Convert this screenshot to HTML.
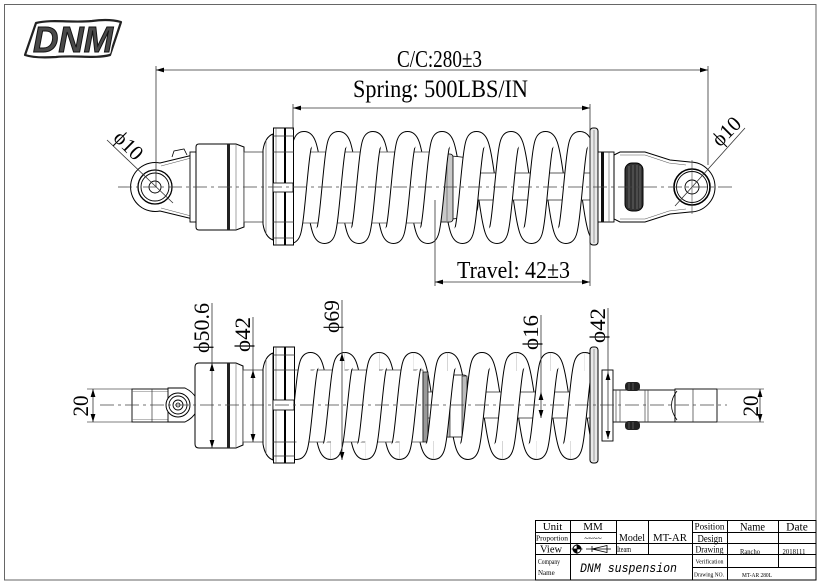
<!DOCTYPE html>
<html>
<head>
<meta charset="utf-8">
<style>
html,body{margin:0;padding:0;background:#fff;}
svg{display:block;}
text{font-family:"Liberation Serif","DejaVu Serif",serif;fill:#000;}
</style>
</head>
<body>
<svg width="824" height="586" viewBox="0 0 824 586" xmlns="http://www.w3.org/2000/svg">
<defs>
  <marker id="a" viewBox="0 0 10 6" refX="10" refY="3" markerWidth="8" markerHeight="5" markerUnits="userSpaceOnUse" orient="auto-start-reverse">
    <path d="M0,0 L10,3 L0,6 z" fill="#000"/>
  </marker>
  <clipPath id="ct"><rect x="294" y="118" width="296" height="135"/></clipPath>
  <clipPath id="cb"><rect x="295" y="338" width="295" height="135"/></clipPath>
  <path id="tf" d="M304 141C298.9 141 295.1 234 290 234M338.5 141C333.4 141 329.6 234 324.5 234M373 141C367.9 141 364.1 234 359 234M407.5 141C402.4 141 398.6 234 393.5 234M442 141C436.9 141 433.1 234 428 234M476.5 141C471.4 141 467.6 234 462.5 234M511 141C505.9 141 502.1 234 497 234M545.5 141C540.4 141 536.6 234 531.5 234M580 141C574.9 141 571.1 234 566 234"/>
  <path id="tb" d="M269.5 141C277 141 282.5 234 290 234M304 141C311.5 141 317 234 324.5 234M338.5 141C346 141 351.5 234 359 234M373 141C380.5 141 386 234 393.5 234M407.5 141C415 141 420.5 234 428 234M442 141C449.5 141 455 234 462.5 234M476.5 141C484 141 489.5 234 497 234M511 141C518.5 141 524 234 531.5 234M545.5 141C553 141 558.5 234 566 234M580 141C587.5 141 593 234 600.5 234"/>
  <path id="bf" d="M310.5 362C305.4 362 301.6 450 296.5 450M344.8 362C339.7 362 335.9 450 330.8 450M379.1 362C374 362 370.2 450 365.1 450M413.4 362C408.3 362 404.5 450 399.4 450M447.7 362C442.6 362 438.8 450 433.7 450M482 362C476.9 362 473.1 450 468 450M516.3 362C511.2 362 507.4 450 502.3 450M550.6 362C545.5 362 541.7 450 536.6 450M584.9 362C579.8 362 576 450 570.9 450"/>
  <path id="bb" d="M276.2 362C283.6 362 289.1 450 296.5 450M310.5 362C317.9 362 323.4 450 330.8 450M344.8 362C352.2 362 357.7 450 365.1 450M379.1 362C386.5 362 392 450 399.4 450M413.4 362C420.8 362 426.3 450 433.7 450M447.7 362C455.1 362 460.6 450 468 450M482 362C489.4 362 494.9 450 502.3 450M516.3 362C523.7 362 529.2 450 536.6 450M550.6 362C558 362 563.5 450 570.9 450M584.9 362C592.3 362 597.8 450 605.2 450"/>
</defs>

<rect x="0" y="0" width="824" height="586" fill="#fff"/>
<!-- frame -->
<rect x="4.5" y="4.5" width="811.5" height="575.5" fill="none" stroke="#666" stroke-width="1"/>

<!-- logo -->
<path d="M36,23 C52,19 72,23 92,21 C106,19 114,20 121,22 L110,55 C95,59 76,55 56,57 C41,58 31,57 25,55 Z" fill="#fff" stroke="#222" stroke-width="2.2" stroke-linejoin="round"/>
<text x="33" y="52" font-family="Liberation Sans" font-weight="bold" font-style="italic" font-size="36" textLength="80" lengthAdjust="spacingAndGlyphs" style="font-family:'Liberation Sans',sans-serif;fill:#fff;stroke:#fff;stroke-width:3.5;stroke-linejoin:round">DNM</text>
<text x="33" y="52" font-weight="bold" font-style="italic" font-size="36" textLength="80" lengthAdjust="spacingAndGlyphs" style="font-family:'Liberation Sans',sans-serif;fill:#4a4a4a;stroke:#111;stroke-width:1">DNM</text>

<!-- ================= TOP SHOCK ================= -->
<!-- left lug -->
<path d="M193,155 L160,163 A24.5,24.5 0 1 0 160,211 L193,219" fill="#fff" stroke="#000" stroke-width="1"/>
<path d="M191,158 L161,166" fill="none" stroke="#555" stroke-width="0.6"/>
<path d="M191,216 L161,208" fill="none" stroke="#555" stroke-width="0.6"/>
<circle cx="155" cy="187" r="17" fill="#fff" stroke="#000" stroke-width="1.3"/>
<circle cx="155" cy="187" r="14" fill="none" stroke="#000" stroke-width="0.9"/>
<circle cx="155" cy="187" r="6" fill="none" stroke="#000" stroke-width="0.9"/>
<path d="M172,157 L174,151 L184,149 L187,155" fill="#fff" stroke="#000" stroke-width="0.8"/>
<rect x="190" y="152" width="7" height="70" fill="#fff" stroke="#000" stroke-width="0.9"/>
<!-- body -->
<path d="M199,144 L236,144 L244,147 L244,227 L236,230 L199,230 Q196,230 196,227 L196,147 Q196,144 199,144 Z" fill="#fff" stroke="#000" stroke-width="1"/>
<rect x="227" y="144" width="3" height="86" fill="#222"/>
<line x1="236" y1="144" x2="236" y2="230" stroke="#666" stroke-width="0.6"/>
<rect x="244" y="152" width="19" height="70" fill="#fff" stroke="#444" stroke-width="0.8"/>
<!-- left seat -->
<path d="M273,134 Q265,137 263,150 L263,224 Q265,237 273,240 Z" fill="#fff" stroke="#000" stroke-width="1"/>
<line x1="266" y1="140" x2="266" y2="234" stroke="#555" stroke-width="0.6"/>
<rect x="273.5" y="128" width="11" height="117" fill="#fff" stroke="#000" stroke-width="1"/>
<rect x="285.5" y="128" width="8" height="117" fill="#fff" stroke="#000" stroke-width="1"/>
<line x1="285" y1="128" x2="285" y2="245" stroke="#000" stroke-width="2"/>
<line x1="276" y1="128" x2="276" y2="245" stroke="#555" stroke-width="0.6"/>
<path d="M273,136 H294 M273,152 H294 M273,222 H294 M273,238 H294" stroke="#333" stroke-width="0.7"/>
<rect x="273" y="183" width="20" height="9" fill="#fff" stroke="#000" stroke-width="0.8"/>

<!-- spring top -->
<g clip-path="url(#ct)">
  <use href="#tb" fill="none" stroke="#000" stroke-width="20"/>
  <use href="#tb" fill="none" stroke="#fff" stroke-width="18"/>
  <rect x="292" y="152" width="141" height="71" fill="#fff" stroke="#555" stroke-width="0.8"/>
  <rect x="478" y="173" width="114" height="27" fill="#fff" stroke="#333" stroke-width="0.8"/>
  <path d="M452,156 L470,158 Q478,161 478,170 L478,205 Q478,214 470,217 L452,219 Z" fill="#fff" stroke="#000" stroke-width="0.8"/>
  <rect x="433" y="154" width="20" height="68" rx="3" fill="#c9c9c9" stroke="#000" stroke-width="0.8"/>
  <path d="M437,156 V220 M441,155 V221 M447,155 V221" stroke="#555" stroke-width="0.6"/>
  <use href="#tf" fill="none" stroke="#000" stroke-width="20"/>
  <use href="#tf" fill="none" stroke="#fff" stroke-width="18"/>
</g>

<!-- right seat & clevis top -->
<rect x="590" y="128" width="8" height="117" rx="3" fill="#e8e8e8" stroke="#000" stroke-width="1"/>
<line x1="594" y1="130" x2="594" y2="243" stroke="#666" stroke-width="0.6"/>
<rect x="598" y="152" width="16" height="70" fill="#fff" stroke="#000" stroke-width="0.9"/>
<rect x="601" y="152" width="3" height="70" fill="#111"/>
<line x1="609" y1="152" x2="609" y2="222" stroke="#555" stroke-width="0.6"/>
<path d="M614,155 L620,152 L645,152 L670,160 L690,162 A25,25 0 1 1 690,212 L670,214 L645,222 L620,222 L614,219 Z" fill="#fff" stroke="#000" stroke-width="1"/>
<path d="M620,155 L645,155 L669,163 L686,165 M620,219 L645,219 L669,211 L686,209" fill="none" stroke="#555" stroke-width="0.6"/>
<rect x="625" y="163" width="18" height="48" rx="7" fill="#333" stroke="#000" stroke-width="1"/>
<path d="M629,166 V208 M633,165 V209 M637,165 V209 M640,166 V208" stroke="#888" stroke-width="0.6"/>
<circle cx="692" cy="187" r="18" fill="#fff" stroke="#000" stroke-width="1.6"/>
<circle cx="692" cy="187" r="15.5" fill="none" stroke="#000" stroke-width="0.9"/>
<circle cx="692" cy="187" r="7" fill="none" stroke="#000" stroke-width="0.9"/>
<line x1="692" y1="160" x2="692" y2="214" stroke="#444" stroke-width="0.6"/>

<!-- centerline top -->
<line x1="118" y1="187" x2="735" y2="187" stroke="#444" stroke-width="0.8" stroke-dasharray="14 4 3 4"/>

<!-- top dimensions -->
<line x1="156" y1="66" x2="156" y2="187" stroke="#333" stroke-width="0.8"/>
<line x1="708" y1="66" x2="708" y2="165" stroke="#333" stroke-width="0.8"/>
<line x1="156" y1="70" x2="708" y2="70" stroke="#333" stroke-width="0.8" marker-start="url(#a)" marker-end="url(#a)"/>
<text x="397" y="67" font-size="24" textLength="85" lengthAdjust="spacingAndGlyphs">C/C:280±3</text>

<line x1="293" y1="104" x2="293" y2="130" stroke="#333" stroke-width="0.8"/>
<line x1="590" y1="104" x2="590" y2="286" stroke="#333" stroke-width="0.8"/>
<line x1="293" y1="108" x2="590" y2="108" stroke="#333" stroke-width="0.8" marker-start="url(#a)" marker-end="url(#a)"/>
<text x="353" y="97" font-size="25" textLength="175" lengthAdjust="spacingAndGlyphs">Spring: 500LBS/IN</text>

<line x1="435" y1="200" x2="435" y2="286" stroke="#333" stroke-width="0.8"/>
<line x1="435" y1="282" x2="590" y2="282" stroke="#333" stroke-width="0.8" marker-start="url(#a)" marker-end="url(#a)"/>
<text x="457" y="278" font-size="24" textLength="113" lengthAdjust="spacingAndGlyphs">Travel: 42±3</text>

<line x1="107" y1="140" x2="173" y2="203" stroke="#333" stroke-width="0.8"/>
<text transform="translate(128,146) rotate(45)" x="0" y="6" text-anchor="middle" font-size="21">ϕ10</text>
<line x1="745" y1="128" x2="675" y2="206" stroke="#333" stroke-width="0.8"/>
<text transform="translate(727,132) rotate(-45)" x="0" y="6" text-anchor="middle" font-size="21">ϕ10</text>

<!-- ================= BOTTOM SHOCK ================= -->
<!-- left end -->
<line x1="87" y1="389" x2="132" y2="389" stroke="#555" stroke-width="0.7"/>
<line x1="87" y1="422" x2="132" y2="422" stroke="#555" stroke-width="0.7"/>
<line x1="93" y1="389" x2="93" y2="422" stroke="#333" stroke-width="0.8" marker-start="url(#a)" marker-end="url(#a)"/>
<text transform="translate(88,406) rotate(-90)" text-anchor="middle" font-size="22" textLength="21" lengthAdjust="spacingAndGlyphs">20</text>

<rect x="132" y="389" width="40" height="33" fill="#fff" stroke="#000" stroke-width="0.9"/>
<path d="M132,391.5 H172 M132,419.5 H172" stroke="#777" stroke-width="0.6"/>
<line x1="152" y1="389" x2="152" y2="422" stroke="#333" stroke-width="0.7"/>
<path d="M168,388 L185,388 Q193,392 196,398 L196,412 Q193,418 185,422 L168,422 Z" fill="#fff" stroke="#000" stroke-width="0.9"/>
<circle cx="178" cy="405" r="12" fill="#fff" stroke="#000" stroke-width="1"/>
<circle cx="178" cy="405" r="9" fill="none" stroke="#000" stroke-width="0.9"/>
<circle cx="178" cy="405" r="5" fill="none" stroke="#000" stroke-width="0.9"/>
<circle cx="178" cy="405" r="2" fill="none" stroke="#000" stroke-width="0.8"/>

<path d="M199,363 L236,363 L243,366 L243,445 L236,448 L199,448 Q195,448 195,444 L195,367 Q195,363 199,363 Z" fill="#fff" stroke="#000" stroke-width="1"/>
<rect x="227" y="363" width="3" height="85" fill="#222"/>
<line x1="236" y1="363" x2="236" y2="448" stroke="#666" stroke-width="0.6"/>
<rect x="243" y="370" width="20" height="72" fill="#fff" stroke="#444" stroke-width="0.8"/>
<path d="M273,353 Q265,356 263,369 L263,444 Q265,457 273,460 Z" fill="#fff" stroke="#000" stroke-width="1"/>
<line x1="266" y1="359" x2="266" y2="454" stroke="#555" stroke-width="0.6"/>
<rect x="273.5" y="347" width="11" height="116" fill="#fff" stroke="#000" stroke-width="1"/>
<rect x="285.5" y="347" width="9" height="116" fill="#fff" stroke="#000" stroke-width="1"/>
<line x1="285" y1="347" x2="285" y2="463" stroke="#000" stroke-width="2"/>
<line x1="276" y1="347" x2="276" y2="463" stroke="#555" stroke-width="0.6"/>
<path d="M273,355 H295 M273,370 H295 M273,442 H295 M273,456 H295" stroke="#333" stroke-width="0.7"/>
<rect x="273" y="400" width="21" height="10" fill="#fff" stroke="#000" stroke-width="0.8"/>

<!-- spring bottom -->
<g clip-path="url(#cb)">
  <use href="#bb" fill="none" stroke="#000" stroke-width="20"/>
  <use href="#bb" fill="none" stroke="#fff" stroke-width="18"/>
  <rect x="293" y="370" width="130" height="72" fill="#fff" stroke="#555" stroke-width="0.8"/>
  <rect x="423" y="372" width="5" height="70" fill="#999" stroke="#000" stroke-width="0.7"/>
  <rect x="428" y="392" width="164" height="26" fill="#fff" stroke="#333" stroke-width="0.8"/>
  <rect x="445" y="375" width="22" height="62" rx="3" fill="#fff" stroke="#000" stroke-width="0.8"/>
  <rect x="445" y="375" width="5" height="62" fill="#bbb" stroke="#000" stroke-width="0.6"/>
  <rect x="462" y="376" width="5" height="60" fill="#bbb" stroke="#000" stroke-width="0.6"/>
  <use href="#bf" fill="none" stroke="#000" stroke-width="20"/>
  <use href="#bf" fill="none" stroke="#fff" stroke-width="18"/>
</g>

<!-- right end bottom -->
<rect x="590" y="347" width="8" height="116" rx="3" fill="#e8e8e8" stroke="#000" stroke-width="1"/>
<line x1="594" y1="349" x2="594" y2="461" stroke="#666" stroke-width="0.6"/>
<rect x="602" y="370" width="11" height="71" fill="#fff" stroke="#000" stroke-width="0.9"/>
<rect x="613" y="390" width="62" height="32" fill="#fff" stroke="#000" stroke-width="0.9"/>
<path d="M616,390 V422 M620,390 V422 M645,390 V422 M648,390 V422" stroke="#444" stroke-width="0.7"/>
<rect x="625" y="382" width="15" height="9" rx="3.5" fill="#222"/>
<rect x="625" y="421" width="15" height="9" rx="3.5" fill="#222"/>
<path d="M629,383 V390 M633,383 V390 M629,422 V429 M633,422 V429" stroke="#777" stroke-width="0.6"/>
<rect x="675" y="389" width="42" height="33" fill="#fff" stroke="#000" stroke-width="0.9"/>
<path d="M677,391 Q666,405 677,420" fill="none" stroke="#000" stroke-width="0.8"/>
<line x1="693" y1="389" x2="693" y2="422" stroke="#333" stroke-width="0.7"/>
<line x1="717" y1="389" x2="764" y2="389" stroke="#555" stroke-width="0.7"/>
<line x1="717" y1="422" x2="764" y2="422" stroke="#555" stroke-width="0.7"/>
<line x1="760" y1="389" x2="760" y2="422" stroke="#333" stroke-width="0.8" marker-start="url(#a)" marker-end="url(#a)"/>
<text transform="translate(758,406) rotate(-90)" text-anchor="middle" font-size="22" textLength="21" lengthAdjust="spacingAndGlyphs">20</text>

<!-- centerline bottom -->
<line x1="100" y1="405" x2="727" y2="405" stroke="#444" stroke-width="0.8" stroke-dasharray="14 4 3 4"/>

<!-- bottom dimensions -->
<line x1="212" y1="303" x2="212" y2="363" stroke="#333" stroke-width="0.8"/>
<line x1="212" y1="363" x2="212" y2="448" stroke="#333" stroke-width="0.8" marker-start="url(#a)" marker-end="url(#a)"/>
<text transform="translate(209,328) rotate(-90)" text-anchor="middle" font-size="22" textLength="50" lengthAdjust="spacingAndGlyphs">ϕ50.6</text>

<line x1="253" y1="317" x2="253" y2="370" stroke="#333" stroke-width="0.8"/>
<line x1="253" y1="370" x2="253" y2="442" stroke="#333" stroke-width="0.8" marker-start="url(#a)" marker-end="url(#a)"/>
<text transform="translate(250,334.5) rotate(-90)" text-anchor="middle" font-size="22" textLength="35" lengthAdjust="spacingAndGlyphs">ϕ42</text>

<line x1="342" y1="300" x2="342" y2="353" stroke="#333" stroke-width="0.8"/>
<line x1="342" y1="353" x2="342" y2="460" stroke="#333" stroke-width="0.8" marker-start="url(#a)" marker-end="url(#a)"/>
<text transform="translate(339,316.5) rotate(-90)" text-anchor="middle" font-size="22" textLength="33" lengthAdjust="spacingAndGlyphs">ϕ69</text>

<line x1="541" y1="315" x2="541" y2="392" stroke="#333" stroke-width="0.8"/>
<line x1="541" y1="392" x2="541" y2="418" stroke="#333" stroke-width="0.8" marker-start="url(#a)" marker-end="url(#a)"/>
<text transform="translate(538,332.5) rotate(-90)" text-anchor="middle" font-size="22" textLength="35" lengthAdjust="spacingAndGlyphs">ϕ16</text>

<line x1="608" y1="308" x2="608" y2="372" stroke="#333" stroke-width="0.8"/>
<line x1="608" y1="372" x2="608" y2="439" stroke="#333" stroke-width="0.8" marker-start="url(#a)" marker-end="url(#a)"/>
<text transform="translate(605,325.5) rotate(-90)" text-anchor="middle" font-size="22" textLength="35" lengthAdjust="spacingAndGlyphs">ϕ42</text>

<!-- ================= TITLE BLOCK ================= -->
<g stroke="#000" stroke-width="1" fill="none">
  <rect x="535.5" y="520.5" width="280.5" height="59.5"/>
  <path d="M535,532.5 H616 M692,532.5 H816 M535,543.5 H816 M535,554.5 H816 M692,567.5 H816"/>
  <path d="M570.5,520 V580 M616.5,520 V554 M648.5,520 V554 M692.5,520 V580 M727.5,520 V580 M778.5,520 V567"/>
</g>
<g font-size="11" text-anchor="middle">
  <text x="552.5" y="530" font-size="11">Unit</text>
  <text x="593" y="530" font-size="11">MM</text>
  <text x="632" y="541" font-size="11" textLength="26" lengthAdjust="spacingAndGlyphs">Model</text>
  <text x="670" y="541" font-size="11" textLength="34" lengthAdjust="spacingAndGlyphs">MT-AR</text>
  <text x="709.5" y="529.5" font-size="9" textLength="30" lengthAdjust="spacingAndGlyphs">Position</text>
  <text x="752.5" y="530.5" font-size="11.5" textLength="25" lengthAdjust="spacingAndGlyphs">Name</text>
  <text x="797" y="530.5" font-size="11.5">Date</text>
  <text x="552" y="540.5" font-size="7" textLength="32" lengthAdjust="spacingAndGlyphs">Proportion</text>
  <text x="593" y="541" font-size="8">~~~~</text>
  <text x="710" y="542" font-size="10" textLength="25" lengthAdjust="spacingAndGlyphs">Design</text>
  <text x="551" y="552.5" font-size="11" textLength="22" lengthAdjust="spacingAndGlyphs">View</text>
  <text x="624" y="552" font-size="8" textLength="14" lengthAdjust="spacingAndGlyphs">Iteam</text>
  <text x="709.5" y="552.5" font-size="9.5" textLength="28" lengthAdjust="spacingAndGlyphs">Drawing</text>
  <text x="750" y="554" font-size="7.5" textLength="20" lengthAdjust="spacingAndGlyphs">Rancho</text>
  <text x="794" y="554" font-size="7.5" textLength="23" lengthAdjust="spacingAndGlyphs">2018111</text>
  <text x="549" y="564" font-size="7" textLength="22" lengthAdjust="spacingAndGlyphs">Company</text>
  <text x="709.5" y="563.5" font-size="6.5" textLength="28" lengthAdjust="spacingAndGlyphs">Verification</text>
  <text x="709" y="576.5" font-size="6.5" textLength="30" lengthAdjust="spacingAndGlyphs">Drawing NO.</text>
  <text x="757" y="577" font-size="6.5" textLength="30" lengthAdjust="spacingAndGlyphs">MT-AR 280L</text>
</g>
<text x="538" y="575" font-size="7">Name</text>
<text x="580" y="572" font-size="12.5" font-style="italic" textLength="97" lengthAdjust="spacingAndGlyphs" style="font-family:'Liberation Mono','DejaVu Sans Mono',monospace;font-style:italic">DNM suspension</text>
<!-- view symbols -->
<circle cx="577" cy="549" r="4" fill="#fff" stroke="#000" stroke-width="1"/>
<path d="M577,545 A4,4 0 0 1 581,549 L577,549 Z M577,553 A4,4 0 0 1 573,549 L577,549 Z" fill="#000"/>
<path d="M571.5,549 H582.5 M577,543.5 V554.5" stroke="#000" stroke-width="0.7"/>
<path d="M586,549 H611 M592,549 L607,545.5 L607,552.5 Z M592,546 V552" fill="none" stroke="#000" stroke-width="0.8"/>
</svg>
</body>
</html>
